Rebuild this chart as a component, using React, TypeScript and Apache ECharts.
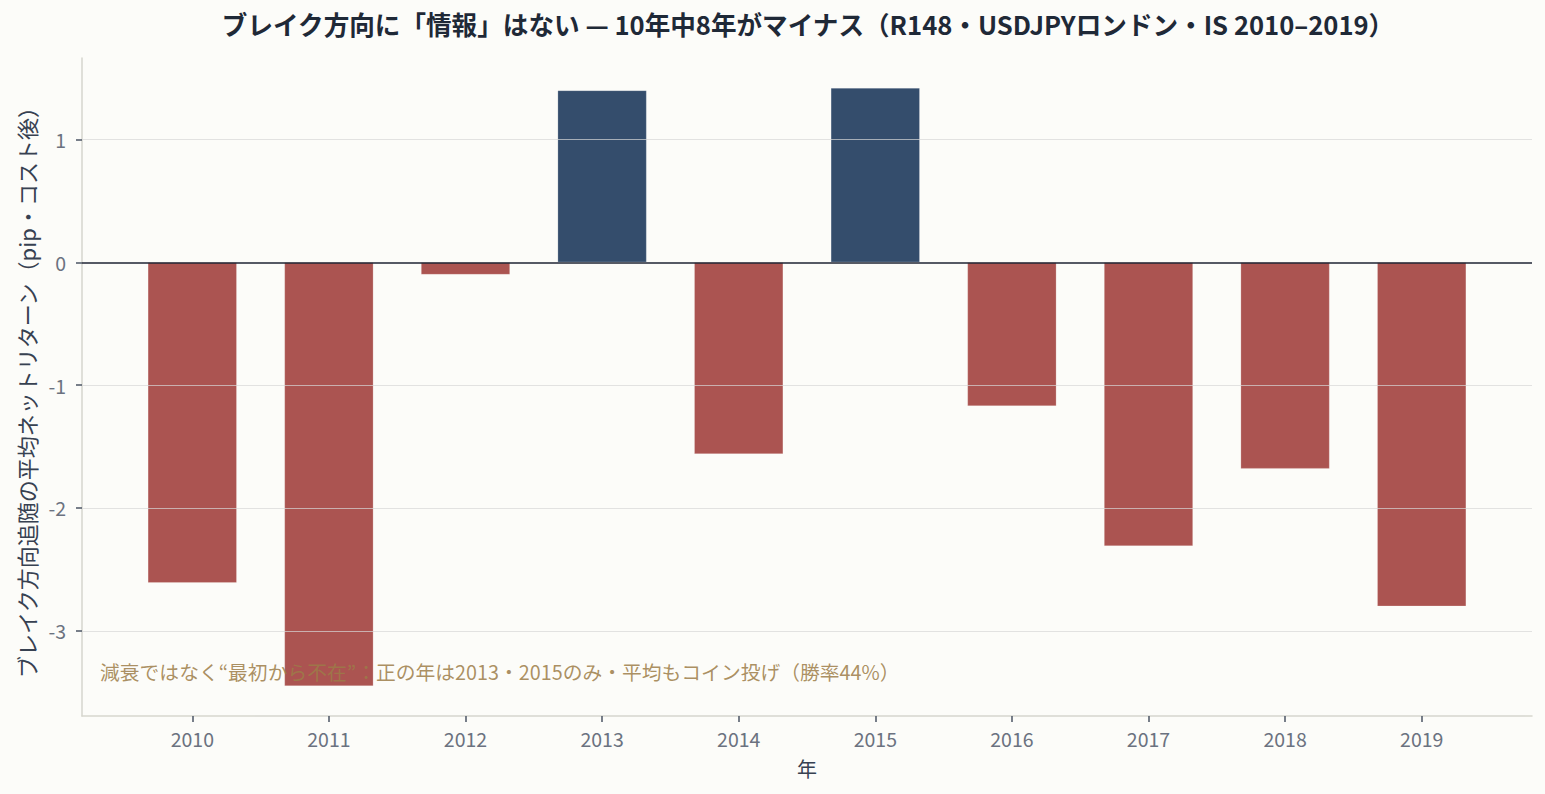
import React, { useEffect, useRef } from "react";
import * as echarts from "echarts";

// Yearly mean net return of following the breakout direction (pips, after costs)
const years = [2010, 2011, 2012, 2013, 2014, 2015, 2016, 2017, 2018, 2019];
const meanReturn = [-2.61, -3.45, -0.1, 1.4, -1.56, 1.42, -1.17, -2.31, -1.68, -2.8];
const yTicks = [-3, -2, -1, 0, 1];

const TITLE =
  "ブレイク方向に「情報」はない — 10年中8年がマイナス（R148・USDJPYロンドン・IS 2010–2019）";
const Y_NAME = "ブレイク方向追随の平均ネットリターン（pip・コスト後）";
const X_NAME = "年";
const NOTE =
  "減衰ではなく“最初から不在”：正の年は2013・2015のみ・平均もコイン投げ（勝率44%）";

const FONT = "'Noto Sans CJK JP', 'Noto Sans', sans-serif";
const POS = "#344d6c";
const NEG = "#ab5451";

export default function App() {
  const ref = useRef<HTMLDivElement>(null);

  useEffect(() => {
    if (!ref.current) return;
    const chart = echarts.init(ref.current, undefined, { renderer: "svg" });

    // Bars span 0.65 of a year; axis padded by 5% of the bar extent on each side
    const half = 0.65 / 2;
    const lo = years[0] - half;
    const hi = years[years.length - 1] + half;
    const xPad = (hi - lo) * 0.05;

    const vMin = Math.min(...meanReturn, 0);
    const vMax = Math.max(...meanReturn, 0);
    const yPad = (vMax - vMin) * 0.05;

    chart.setOption({
      animation: false,
      backgroundColor: "#fcfcf9",
      textStyle: { fontFamily: FONT },
      title: {
        text: TITLE,
        left: 803,
        textAlign: "center",
        top: 6,
        textStyle: {
          fontFamily: FONT,
          fontSize: 25.6,
          fontWeight: "bold",
          color: "#1f2937",
        },
      },
      grid: { left: 82, right: 13, top: 58, bottom: 78, containLabel: false },
      xAxis: {
        type: "value",
        min: lo - xPad,
        max: hi + xPad,
        name: X_NAME,
        nameLocation: "middle",
        nameGap: 42,
        nameTextStyle: { fontFamily: FONT, fontSize: 20, color: "#374151" },
        axisLine: { show: true, onZero: false, lineStyle: { color: "#d6d6ce", width: 1.5 } },
        axisTick: {
          show: true,
          customValues: years,
          length: 6,
          lineStyle: { color: "#4b5563", width: 1.5 },
        },
        axisLabel: {
          customValues: years,
          formatter: (v: number) => String(v),
          margin: 13,
          fontFamily: FONT,
          fontSize: 19.5,
          color: "#6b7280",
        },
        splitLine: { show: false },
      },
      yAxis: {
        type: "value",
        min: vMin - yPad,
        max: vMax + yPad,
        name: Y_NAME,
        nameLocation: "middle",
        nameRotate: 90,
        nameGap: 45,
        nameTextStyle: { fontFamily: FONT, fontSize: 22, color: "#374151" },
        axisLine: { show: true, onZero: false, lineStyle: { color: "#d6d6ce", width: 1.5 } },
        axisTick: {
          show: true,
          customValues: yTicks,
          length: 6,
          lineStyle: { color: "#4b5563", width: 1.5 },
        },
        axisLabel: {
          customValues: yTicks,
          formatter: (v: number) => String(v),
          margin: 16,
          fontFamily: FONT,
          fontSize: 19.5,
          color: "#6b7280",
        },
        splitLine: { show: false },
      },
      graphic: [
        {
          type: "text",
          left: 100,
          top: 662,
          z: 10,
          style: {
            text: NOTE,
            fontFamily: FONT,
            fontSize: 19.8,
            fill: "#9c7c48",
            opacity: 0.85,
          },
        },
      ],
      series: [
        {
          type: "bar",
          z: 2,
          barWidth: 89,
          data: years.map((y, i) => ({
            value: [y, meanReturn[i]],
            itemStyle: {
              color: meanReturn[i] >= 0 ? POS : NEG,
              borderColor: "rgba(255,255,255,0.35)",
              borderWidth: 0.6,
            },
          })),
          markLine: {
            silent: true,
            symbol: "none",
            z: 5,
            label: { show: false },
            data: [
              ...yTicks
                .filter((t) => t !== 0)
                .map((t) => ({
                  yAxis: t,
                  lineStyle: { color: "rgba(215,215,215,0.7)", width: 1.2, type: "solid" },
                })),
              {
                yAxis: 0,
                lineStyle: { color: "#1f2433", width: 1.6, type: "solid" },
              },
            ],
          },
        },
      ],
    });

    return () => chart.dispose();
  }, []);

  return (
    <div
      ref={ref}
      style={{ position: "fixed", left: 0, top: 0, width: 1545, height: 794 }}
    />
  );
}
